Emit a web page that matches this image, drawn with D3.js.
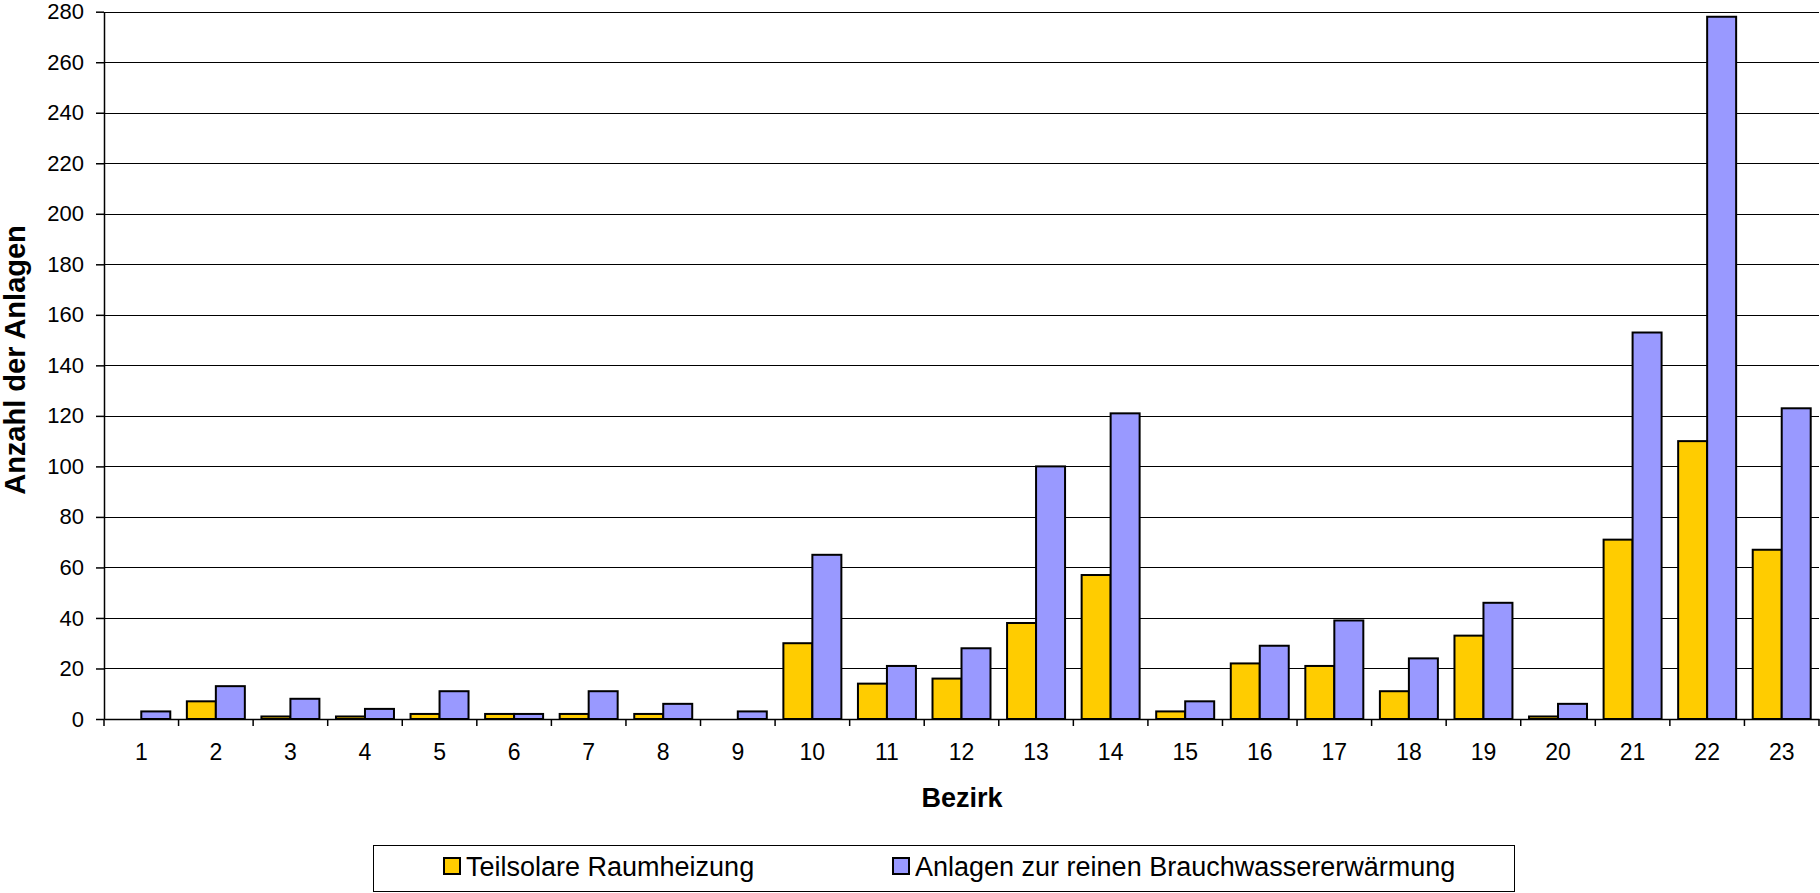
<!DOCTYPE html>
<html>
<head>
<meta charset="utf-8">
<script src="https://cdn.jsdelivr.net/npm/d3@7"></script>
<style>
  body { margin: 0; background: #fff; }
  svg { display: block; font-family: "Liberation Sans", Arial, sans-serif; }
</style>
</head>
<body>
<div id="chart"></div>
<script>
// Data
const bezirke = ['1','2','3','4','5','6','7','8','9','10','11','12','13','14','15','16','17','18','19','20','21','22','23']
const teilsolar = [0, 7, 1, 1, 2, 2, 2, 2, 0, 30, 14, 16, 38, 57, 3, 22, 21, 11, 33, 1, 71, 110, 67]
const brauchwasser = [3, 13, 8, 4, 11, 2, 11, 6, 3, 65, 21, 28, 100, 121, 7, 29, 39, 24, 46, 6, 153, 278, 123]
const yTicks = [0, 20, 40, 60, 80, 100, 120, 140, 160, 180, 200, 220, 240, 260, 280]
const seriesNames = ['Teilsolare Raumheizung', 'Anlagen zur reinen Brauchwassererwärmung']
const seriesColors = ['#ffcc00', '#9999ff']

const width = 1820
const height = 893
const plot = { left: 104, right: 1819, top: 11.7, bottom: 719 }

const rows = bezirke.map((b, i) => ({ bezirk: b, values: [teilsolar[i], brauchwasser[i]] }))

const svg = d3.select('#chart')
    .append('svg')
    .attr('width', width)
    .attr('height', height)

// scales
const x0 = d3.scaleBand()
    .domain(bezirke)
    .range([plot.left, plot.right])

const x1 = d3.scaleBand()
    .domain([0, 1])
    .range([0, x0.bandwidth()])
    .paddingInner(0)
    .paddingOuter(0.286)

const y = d3.scaleLinear()
    .domain([0, 280])
    .range([plot.bottom, plot.top])

// gridlines
svg.append('g')
    .attr('transform', 'translate(' + plot.left + ',0)')
    .call(d3.axisLeft(y).tickValues(yTicks.slice(1)).tickSize(-(plot.right - plot.left)).tickFormat(''))
    .call(g => g.select('.domain').remove())
    .call(g => g.selectAll('line').attr('stroke', '#000').attr('shape-rendering', 'crispEdges'))

// bars
const groups = svg.append('g').selectAll('g')
    .data(rows)
    .enter()
    .append('g')
    .attr('transform', d => 'translate(' + x0(d.bezirk) + ',0)')

groups.selectAll('rect')
    .data(d => d.values.map((v, k) => ({ k: k, v: v })).filter(e => e.v > 0))
    .enter()
    .append('rect')
    .attr('x', e => x1(e.k))
    .attr('y', e => y(e.v))
    .attr('width', x1.bandwidth())
    .attr('height', e => y(0) - y(e.v))
    .attr('fill', e => seriesColors[e.k])
    .attr('stroke', '#000')
    .attr('stroke-width', 2)

// y axis
svg.append('g')
    .attr('transform', 'translate(' + plot.left + ',0)')
    .call(d3.axisLeft(y).tickValues(yTicks).tickSize(8).tickPadding(12).tickSizeOuter(0))
    .call(g => g.selectAll('text').attr('font-size', 22).attr('fill', '#000').attr('font-family', null))
    .call(g => g.selectAll('line, path').attr('stroke', '#000').attr('stroke-width', 1.5))

// x axis: labels at band centers, ticks at band boundaries
svg.append('g')
    .attr('transform', 'translate(0,' + plot.bottom + ')')
    .call(d3.axisBottom(x0).tickSize(0).tickPadding(25).tickSizeOuter(0))
    .call(g => g.selectAll('text').attr('font-size', 23).attr('fill', '#000').attr('font-family', null))
    .call(g => g.select('.domain').attr('stroke', '#000').attr('stroke-width', 1.5))

svg.append('g')
    .selectAll('line')
    .data(bezirke.map(b => x0(b)).concat([plot.right]))
    .enter()
    .append('line')
    .attr('x1', d => d)
    .attr('x2', d => d)
    .attr('y1', plot.bottom)
    .attr('y2', plot.bottom + 7)
    .attr('stroke', '#000')
    .attr('stroke-width', 1.5)

// axis titles
svg.append('text')
    .attr('x', 962)
    .attr('y', 807)
    .attr('text-anchor', 'middle')
    .attr('font-size', 27)
    .attr('font-weight', 'bold')
    .text('Bezirk')

svg.append('text')
    .attr('transform', 'translate(25,360) rotate(-90)')
    .attr('text-anchor', 'middle')
    .attr('font-size', 29)
    .attr('font-weight', 'bold')
    .text('Anzahl der Anlagen')

// legend
const legend = svg.append('g')
legend.append('rect')
    .attr('x', 373.5)
    .attr('y', 845.5)
    .attr('width', 1141)
    .attr('height', 46)
    .attr('fill', '#fff')
    .attr('stroke', '#000')
    .attr('stroke-width', 1)

const legendX = [444, 893]
seriesNames.forEach((name, k) => {
    legend.append('rect')
        .attr('x', legendX[k])
        .attr('y', 858)
        .attr('width', 16)
        .attr('height', 16)
        .attr('fill', seriesColors[k])
        .attr('stroke', '#000')
        .attr('stroke-width', 2)
    legend.append('text')
        .attr('x', legendX[k] + 22)
        .attr('y', 876)
        .attr('font-size', 27)
        .text(name)
})
</script>
</body>
</html>
